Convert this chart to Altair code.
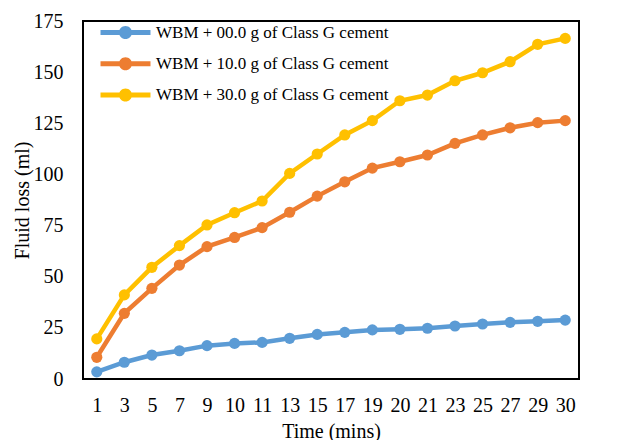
import altair as alt
import pandas as pd

times = ["1", "3", "5", "7", "9", "10", "11", "13", "15", "17", "19", "20", "21", "23", "25", "27", "29", "30"]
series = ["WBM + 00.0 g of Class G cement", "WBM + 10.0 g of Class G cement", "WBM + 30.0 g of Class G cement"]
loss_00 = [3.5, 8.2, 11.7, 13.8, 16.3, 17.4, 17.9, 19.9, 21.8, 22.8, 24.0, 24.3, 24.8, 25.9, 26.9, 27.7, 28.2, 28.8]
loss_10 = [10.6, 32.1, 44.3, 55.7, 64.7, 69.2, 74.0, 81.5, 89.4, 96.4, 103.1, 106.2, 109.5, 115.2, 119.3, 122.8, 125.3, 126.3]
loss_30 = [19.6, 41.1, 54.6, 65.2, 75.3, 81.3, 87.0, 100.5, 110.0, 119.3, 126.3, 136.0, 138.8, 145.8, 149.7, 155.1, 163.6, 166.5]
y_ticks = [0, 25, 50, 75, 100, 125, 150, 175]
colors = ["#5B9BD5", "#ED7D31", "#FFC000"]

rows = []
for name, vals in zip(series, [loss_00, loss_10, loss_30]):
    for t, v in zip(times, vals):
        rows.append({"Time": t, "Loss": v, "Series": name})
df = pd.DataFrame(rows)

FONT = "Liberation Serif"
legend_path = ("M-3.57,-0.36 L3.57,-0.36 L3.57,0.36 L-3.57,0.36 Z "
               "M0.93,0 A0.93,0.93 0 1,1 -0.93,0 A0.93,0.93 0 1,1 0.93,0 Z")

chart = alt.Chart(df).mark_line(
    strokeWidth=4.5,
    point=alt.OverlayMarkDef(filled=True, size=125, opacity=1),
).encode(
    x=alt.X("Time:N", sort=times,
            scale=alt.Scale(type="point", padding=0.5),
            axis=alt.Axis(title="Time (mins)", labelAngle=0, ticks=False, tickSize=0,
                          domain=False, grid=False, labelFontSize=20, labelPadding=16,
                          titleFontSize=20, titleFontWeight="normal",
                          titleBaseline="alphabetic", titleY=58)),
    y=alt.Y("Loss:Q", scale=alt.Scale(domain=[0, 175], nice=False),
            axis=alt.Axis(title="Fluid loss (ml)", values=y_ticks, ticks=False, tickSize=0,
                          domain=False, grid=False, labelFontSize=20, labelPadding=20,
                          titleFontSize=20, titleFontWeight="normal",
                          titleBaseline="alphabetic", titleAngle=270, titleX=-55, titleY=179,
                          titleAlign="center")),
    color=alt.Color("Series:N", sort=series,
                    scale=alt.Scale(domain=series, range=colors),
                    legend=alt.Legend(title=None, orient="none", legendX=34, legendY=3,
                                      symbolType=legend_path, symbolSize=196,
                                      symbolStrokeWidth=0, labelFontSize=17,
                                      labelOffset=22, rowPadding=13.3, padding=0,
                                      labelLimit=0, labelColor="#000000")),
).properties(
    width=496, height=358,
    autosize=alt.AutoSizeParams(type="none"),
    padding={"left": 75, "top": 13, "right": 30, "bottom": 61},
).configure(
    font=FONT,
    background="white",
).configure_view(
    stroke="#000000", strokeWidth=2,
).configure_axis(
    labelFont=FONT, titleFont=FONT, labelColor="#000000", titleColor="#000000",
).configure_legend(
    labelFont=FONT,
)

chart.save("out.html", embed_options={"renderer": "svg", "actions": False})
